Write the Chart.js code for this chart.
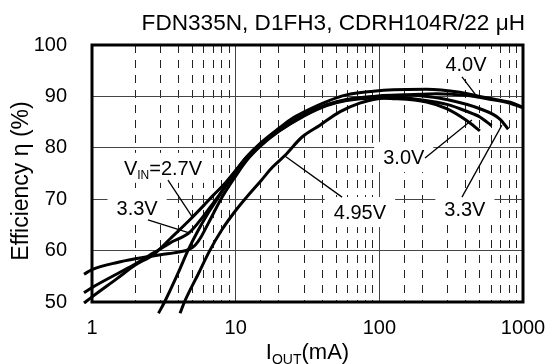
<!DOCTYPE html>
<html>
<head>
<meta charset="utf-8">
<script src="https://cdn.jsdelivr.net/npm/chart.js@4.4.0/dist/chart.umd.min.js"></script>
<style>
  html, body { margin: 0; padding: 0; background: #fff; }
  #wrap { width: 549px; height: 364px; position: relative; }
</style>
</head>
<body>
<div id="wrap"><canvas id="effChart"></canvas></div>
<script>
const FONT = '"Liberation Sans", Arial, Helvetica, sans-serif';

// efficiency curves, IOUT in mA, efficiency in %
const iout27 = [0.88, 1, 1.5, 2, 2.7, 3.5, 4.8, 6, 7, 8.5, 10, 12, 15, 20, 30, 43, 59, 91, 120, 200, 300, 364, 450, 501, 604];
const eff27  = [49.8, 51, 54.6, 57.2, 59.3, 62.3, 66, 68.8, 70.8, 73.2, 75.6, 78.3, 80.8, 83.3, 86.3, 88.3, 89.3, 89.8, 89.9, 89.3, 88.4, 87.6, 86.6, 86, 84.3];

const iout30 = [0.88, 1, 1.5, 2, 3, 4, 4.7, 5.2, 5.7, 6.5, 8, 10, 12, 15, 20, 30, 43, 59, 91, 120, 213, 294, 405, 501];
const eff30  = [55.4, 56.3, 57.7, 58.4, 59.2, 59.7, 60.2, 61, 62.5, 65.5, 70.3, 74.5, 77.6, 80.4, 83.2, 86.2, 88.2, 89.2, 89.7, 89.6, 88.9, 87.6, 85.3, 83.3];

const iout33 = [0.88, 1, 1.5, 2, 2.7, 3.5, 4.8, 6, 7, 8.5, 10, 12, 15, 20, 30, 43, 59, 91, 150, 200, 294, 501, 690, 789];
const eff33  = [51.8, 52.8, 55.5, 57.4, 59.6, 61.5, 63.6, 66.8, 69.3, 72.5, 75.2, 78.2, 80.8, 83.4, 86.5, 88.4, 89.4, 90, 90.3, 90.1, 89.4, 87.6, 85.6, 83.6];

const iout40 = [2.9, 3.2, 4, 4.65, 5.5, 6.5, 7.5, 8.5, 10, 12, 15, 20, 25, 30, 43, 59, 91, 125, 213, 364, 500, 621, 800, 1000];
const eff40  = [47.8, 50, 55.8, 60, 64, 67.5, 70.2, 72.7, 75.5, 78.3, 81, 83.8, 85.8, 87, 89, 90.3, 91, 91.3, 91.4, 90.8, 90, 89.5, 88.9, 87.9];

const iout495 = [4.1, 4.4, 5.5, 6.6, 8, 10, 12, 15, 18, 22, 29, 38.6, 53, 73, 100, 150, 250, 400, 600, 800, 1000];
const eff495  = [47.8, 50, 55.5, 60, 64, 67.8, 70.5, 73.6, 76.2, 78.5, 82.1, 84.4, 87, 88.7, 89.6, 90.2, 90.5, 90.2, 89.4, 88.7, 87.8];

const xTicks = [1, 10, 100, 1000];
const yTicks = [50, 60, 70, 80, 90, 100];

// callouts: text ({..} = subscript), text centre and pointer ends in data units
const calloutText = ['4.0V', '3.0V', '3.3V', '4.95V', 'V{IN}=2.7V', '3.3V'];
const calloutX    = [401, 148, 394, 73.3, 3.12, 2.06];
const calloutY    = [96.3, 78.2, 68.1, 67.5, 76.1, 68.3];
const pointerX1   = [376, 208, 376, 55, 3.38, 2.45];
const pointerY1   = [93.8, 78.0, 70.4, 70.4, 73.7, 66.0];
const pointerX2   = [486, 441, 713, 22, 5.05, 4.81];
const pointerY2   = [89.7, 85.4, 84.4, 78.4, 66.3, 63.4];

function pts(xs, ys) {
  return xs.map((x, i) => ({ x: x, y: ys[i] }));
}

function isDecade(v) {
  const l = Math.log10(v);
  return Math.abs(l - Math.round(l)) < 1e-6;
}

// text with {sub} parts
function richWidth(ctx, str, size) {
  let w = 0;
  str.split(/(\{[^}]*\})/).forEach(part => {
    if (!part) return;
    const sub = part[0] === '{';
    ctx.font = (sub ? Math.round(size * 0.62) : size) + 'px ' + FONT;
    w += ctx.measureText(sub ? part.slice(1, -1) : part).width;
  });
  return w;
}

function drawRich(ctx, str, cx, baseline, size) {
  const w = richWidth(ctx, str, size);
  let x = cx - w / 2;
  ctx.textAlign = 'left';
  ctx.textBaseline = 'alphabetic';
  str.split(/(\{[^}]*\})/).forEach(part => {
    if (!part) return;
    const sub = part[0] === '{';
    const t = sub ? part.slice(1, -1) : part;
    ctx.font = (sub ? Math.round(size * 0.62) : size) + 'px ' + FONT;
    ctx.fillText(t, x, sub ? baseline + size * 0.22 : baseline);
    x += ctx.measureText(t).width;
  });
  return w;
}

const LABEL_SIZE = 20;

const overlay = {
  id: 'overlay',
  beforeDatasetsDraw(chart) {
    const { ctx, chartArea: a, scales } = chart;
    ctx.save();
    // white boxes behind the callout text
    ctx.fillStyle = '#fff';
    calloutText.forEach((t, i) => {
      const cx = scales.x.getPixelForValue(calloutX[i]);
      const cy = scales.y.getPixelForValue(calloutY[i]);
      const w = richWidth(ctx, t, LABEL_SIZE);
      ctx.fillRect(cx - w / 2 - 9, cy - 15, w + 18, 30);
    });
    // frame
    ctx.strokeStyle = '#000';
    ctx.lineWidth = 3;
    ctx.strokeRect(a.left, a.top, a.right - a.left, a.bottom - a.top);
    ctx.restore();
  },
  afterDatasetsDraw(chart) {
    const { ctx, chartArea: a, scales } = chart;
    ctx.save();
    ctx.fillStyle = '#000';
    ctx.strokeStyle = '#000';
    ctx.lineWidth = 1.3;
    calloutText.forEach((t, i) => {
      const cx = scales.x.getPixelForValue(calloutX[i]);
      const cy = scales.y.getPixelForValue(calloutY[i]);
      drawRich(ctx, t, cx, cy + LABEL_SIZE * 0.36, LABEL_SIZE);
      ctx.beginPath();
      ctx.moveTo(scales.x.getPixelForValue(pointerX1[i]), scales.y.getPixelForValue(pointerY1[i]));
      ctx.lineTo(scales.x.getPixelForValue(pointerX2[i]), scales.y.getPixelForValue(pointerY2[i]));
      ctx.stroke();
    });
    // chart title, right aligned to the frame
    ctx.font = '22.6px ' + FONT;
    ctx.textAlign = 'right';
    ctx.textBaseline = 'alphabetic';
    ctx.fillText('FDN335N, D1FH3, CDRH104R/22 \u03bcH', a.right + 2, 30);
    // x axis title
    drawRich(ctx, 'I{OUT}(mA)', (a.left + a.right) / 2, 359, 22);
    // y axis title
    ctx.translate(28, 181);
    ctx.rotate(-Math.PI / 2);
    ctx.font = '23px ' + FONT;
    ctx.textAlign = 'center';
    ctx.fillText('Efficiency \u03b7 (%)', 0, 0);
    ctx.restore();
  }
};

function curve(label, xs, ys) {
  return {
    label: label,
    data: pts(xs, ys),
    borderColor: '#000',
    borderWidth: 3,
    pointRadius: 0,
    fill: false,
    cubicInterpolationMode: 'monotone',
    clip: { left: 9, top: 0, right: 0, bottom: 12 }
  };
}

new Chart(document.getElementById('effChart').getContext('2d'), {
  type: 'line',
  data: {
    datasets: [
      curve('2.7V', iout27, eff27),
      curve('3.0V', iout30, eff30),
      curve('3.3V', iout33, eff33),
      curve('4.0V', iout40, eff40),
      curve('4.95V', iout495, eff495)
    ]
  },
  options: {
    responsive: true,
    maintainAspectRatio: false,
    animation: false,
    layout: { padding: { left: 0, top: 45, right: 26, bottom: 0 } },
    plugins: { legend: { display: false }, tooltip: { enabled: false } },
    scales: {
      x: {
        type: 'logarithmic',
        min: xTicks[0],
        max: xTicks[xTicks.length - 1],
        afterFit(s) {
          s.height = 62;
          s.paddingLeft = 0;
          s.paddingRight = 0;
        },
        ticks: {
          autoSkip: false,
          maxRotation: 0,
          padding: 14,
          color: '#000',
          font: { family: FONT, size: 20 },
          callback: v => (xTicks.some(t => Math.abs(t - v) < 1e-6) ? String(v) : '')
        },
        grid: {
          drawTicks: false,
          lineWidth: 1,
          color: ctx => (ctx.tick && isDecade(ctx.tick.value) ? '#444' : '#222')
        },
        border: {
          display: false,
          dash: ctx => (ctx.tick && isDecade(ctx.tick.value) ? [] : [8, 7])
        }
      },
      y: {
        min: yTicks[0],
        max: yTicks[yTicks.length - 1],
        afterFit(s) {
          s.width = 92;
          s.paddingTop = 0;
          s.paddingBottom = 0;
        },
        afterBuildTicks(s) { s.ticks = yTicks.map(v => ({ value: v })); },
        ticks: {
          padding: 25,
          color: '#000',
          font: { family: FONT, size: 20 }
        },
        grid: { drawTicks: false, lineWidth: 1, color: '#444' },
        border: { display: false }
      }
    }
  },
  plugins: [overlay]
});
</script>
</body>
</html>
